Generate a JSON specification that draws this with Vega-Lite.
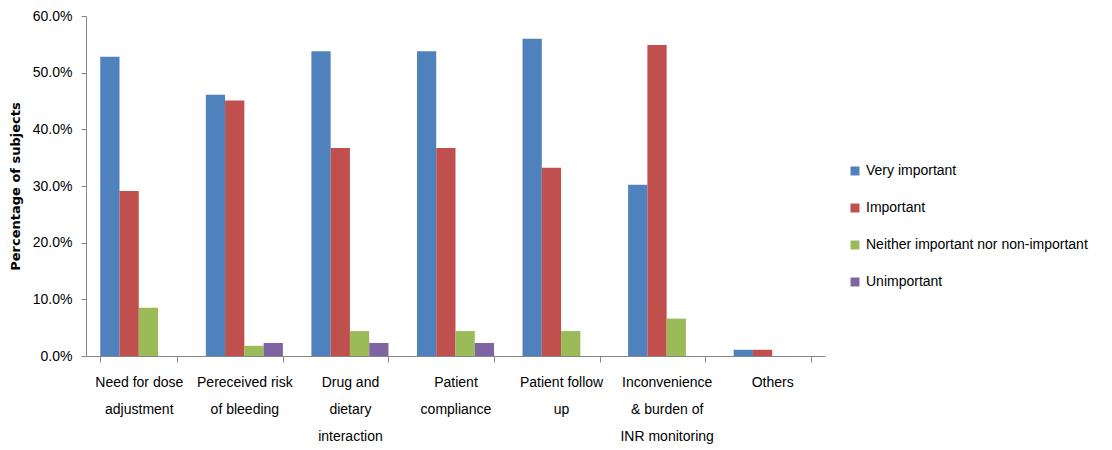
{
  "$schema": "https://vega.github.io/schema/vega-lite/v6.json",
  "width": 739,
  "height": 340,
  "autosize": {"type": "none"},
  "padding": {"left": 86, "top": 16, "right": 287, "bottom": 94},
  "background": "white",
  "config": {"view": {"stroke": null}, "font": "Liberation Sans"},
  "data": {"values": [
    {"factor": "Need for dose adjustment", "rating": "Very important", "pct": 0.528},
    {"factor": "Need for dose adjustment", "rating": "Important", "pct": 0.291},
    {"factor": "Need for dose adjustment", "rating": "Neither important nor non-important", "pct": 0.085},
    {"factor": "Need for dose adjustment", "rating": "Unimportant", "pct": 0},
    {"factor": "Pereceived risk of bleeding", "rating": "Very important", "pct": 0.461},
    {"factor": "Pereceived risk of bleeding", "rating": "Important", "pct": 0.451},
    {"factor": "Pereceived risk of bleeding", "rating": "Neither important nor non-important", "pct": 0.018},
    {"factor": "Pereceived risk of bleeding", "rating": "Unimportant", "pct": 0.023},
    {"factor": "Drug and dietary interaction", "rating": "Very important", "pct": 0.538},
    {"factor": "Drug and dietary interaction", "rating": "Important", "pct": 0.367},
    {"factor": "Drug and dietary interaction", "rating": "Neither important nor non-important", "pct": 0.044},
    {"factor": "Drug and dietary interaction", "rating": "Unimportant", "pct": 0.023},
    {"factor": "Patient compliance", "rating": "Very important", "pct": 0.538},
    {"factor": "Patient compliance", "rating": "Important", "pct": 0.367},
    {"factor": "Patient compliance", "rating": "Neither important nor non-important", "pct": 0.044},
    {"factor": "Patient compliance", "rating": "Unimportant", "pct": 0.023},
    {"factor": "Patient follow up", "rating": "Very important", "pct": 0.56},
    {"factor": "Patient follow up", "rating": "Important", "pct": 0.332},
    {"factor": "Patient follow up", "rating": "Neither important nor non-important", "pct": 0.044},
    {"factor": "Patient follow up", "rating": "Unimportant", "pct": 0},
    {"factor": "Inconvenience & burden of INR monitoring", "rating": "Very important", "pct": 0.302},
    {"factor": "Inconvenience & burden of INR monitoring", "rating": "Important", "pct": 0.549},
    {"factor": "Inconvenience & burden of INR monitoring", "rating": "Neither important nor non-important", "pct": 0.066},
    {"factor": "Inconvenience & burden of INR monitoring", "rating": "Unimportant", "pct": 0},
    {"factor": "Others", "rating": "Very important", "pct": 0.011},
    {"factor": "Others", "rating": "Important", "pct": 0.011},
    {"factor": "Others", "rating": "Neither important nor non-important", "pct": 0},
    {"factor": "Others", "rating": "Unimportant", "pct": 0}
  ]},
  "mark": {"type": "bar"},
  "encoding": {
    "x": {
      "field": "factor", "type": "nominal", "sort": null,
      "scale": {"paddingInner": 0.27, "paddingOuter": 0.135},
      "axis": {
        "title": null, "labelAngle": 0, "tickBand": "extent",
        "domainColor": "#868686", "tickColor": "#868686", "tickSize": 6,
        "labelFont": "Liberation Sans", "labelFontSize": 14, "labelColor": "#000000",
        "labelPadding": 13, "labelLineHeight": 27, "labelBaseline": "top",
        "labelExpr": "datum.label == 'Need for dose adjustment' ? ['Need for dose', 'adjustment'] : datum.label == 'Pereceived risk of bleeding' ? ['Pereceived risk', 'of bleeding'] : datum.label == 'Drug and dietary interaction' ? ['Drug and', 'dietary', 'interaction'] : datum.label == 'Patient compliance' ? ['Patient', 'compliance'] : datum.label == 'Patient follow up' ? ['Patient follow', 'up'] : datum.label == 'Inconvenience & burden of INR monitoring' ? ['Inconvenience', '& burden of', 'INR monitoring'] : datum.label"
      }
    },
    "xOffset": {"field": "rating", "type": "nominal", "sort": ["Very important", "Important", "Neither important nor non-important", "Unimportant"]},
    "y": {
      "field": "pct", "type": "quantitative",
      "scale": {"domain": [0, 0.6], "nice": false},
      "axis": {
        "title": "Percentage of subjects", "titleFont": "DejaVu Sans", "titleFontSize": 13, "titleFontWeight": "bold", "titleColor": "#000000", "titlePadding": 10,
        "format": ".1%", "values": [0, 0.1, 0.2, 0.3, 0.4, 0.5, 0.6],
        "grid": false, "domainColor": "#868686", "tickColor": "#868686", "tickSize": 5,
        "labelFont": "Liberation Sans", "labelFontSize": 14, "labelColor": "#000000", "labelPadding": 9
      }
    },
    "color": {
      "field": "rating", "type": "nominal",
      "sort": ["Very important", "Important", "Neither important nor non-important", "Unimportant"],
      "scale": {"domain": ["Very important", "Important", "Neither important nor non-important", "Unimportant"], "range": ["#4F81BD", "#C0504D", "#9BBB59", "#8064A2"]},
      "legend": {
        "title": null, "orient": "none", "legendX": 762, "legendY": 148,
        "symbolType": "square", "symbolSize": 80, "symbolStrokeWidth": 0,
        "labelFont": "Liberation Sans", "labelFontSize": 14, "labelColor": "#000000",
        "labelOffset": 4, "rowPadding": 23, "labelLimit": 300
      }
    }
  }
}
